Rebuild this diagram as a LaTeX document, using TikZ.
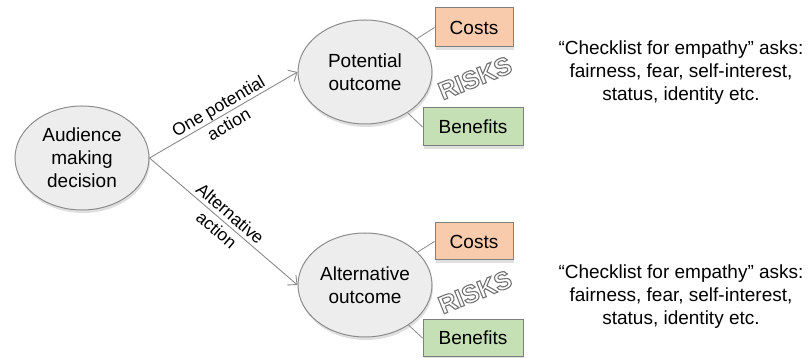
\documentclass[tikz,border=0pt]{standalone}
\usepackage{fontspec}
\setmainfont{Liberation Sans}
\usepackage{xcolor}
\usetikzlibrary{arrows.meta,shadows,shapes.geometric}
\definecolor{ovalfill}{HTML}{EDEDED}
\definecolor{ovalline}{HTML}{8C8C8C}
\definecolor{costfill}{HTML}{F8CBAD}
\definecolor{benfill}{HTML}{C5E0B4}
\definecolor{boxline}{HTML}{7F7F7F}
\definecolor{wire}{HTML}{8A8A8A}
\newcommand\bigtext{\fontsize{19}{23}\selectfont}
\newcommand\risks{\special{pdf:code q 2 Tr 1.1 w 0.45 G 1 g}%
  {\bfseries\fontsize{25}{25}\selectfont RISKS}\special{pdf:code Q}}
\tikzset{
  oval/.style={ellipse, draw=ovalline, line width=1pt, fill=ovalfill,
    minimum width=134pt, minimum height=104pt, inner sep=0pt, align=center,
    font=\bigtext, drop shadow={opacity=0.25, shadow xshift=1pt, shadow yshift=-3pt}},
  costbox/.style={rectangle, draw=boxline, line width=1pt, fill=costfill,
    minimum width=78pt, minimum height=39pt, font=\bigtext,
    drop shadow={opacity=0.25, shadow xshift=1pt, shadow yshift=-3pt}},
  benbox/.style={costbox, fill=benfill, minimum width=100pt, minimum height=38pt},
  note/.style={align=center, font=\bigtext},
  act/.style={draw=wire, line width=0.9pt, -{Straight Barb[length=7pt,width=13pt]}},
  tie/.style={draw=wire, line width=0.8pt},
  actlabel/.style={midway, sloped, align=center,
    font=\fontsize{17.5}{21}\selectfont}
}
\begin{document}
\begin{tikzpicture}[x=1pt, y=1pt]
    \useasboundingbox (0, 0) rectangle (810, 358);

    \node[oval] (Aud) at (82, 200) {Audience\\making\\decision};
    \node[oval] (Pot) at (365, 286) {Potential\\outcome};
    \node[oval] (Alt) at (365, 73) {Alternative\\outcome};

    \node[costbox] (Costs) at (474, 330.5) {Costs};
    \node[benbox] (Ben) at (473, 231) {Benefits};
    \node[costbox, minimum height=37pt] (Costsp) at (474, 116.5) {Costs};
    \node[benbox, minimum height=37pt] (Benp) at (473, 20) {Benefits};

    \node[rotate=22] (Risk) at (475, 280) {\risks};
    \node[rotate=22] (Riskp) at (475, 66) {\risks};

    \node[note] (Check) at (681, 285)
      {``Checklist for empathy'' asks:\\fairness, fear, self-interest,\\status, identity etc.};
    \node[note] (Checkp) at (681, 61)
      {``Checklist for empathy'' asks:\\fairness, fear, self-interest,\\status, identity etc.};

    \draw[act] (Aud.east) -- (Pot.west)
      node[actlabel] {One potential\\action};
    \draw[act] (Aud.east) -- (Alt.west)
      node[actlabel] {Alternative\\action};

    \draw[tie] (Pot) -- (Costs.west);
    \draw[tie] (Pot) -- (Ben.west);
    \draw[tie] (Alt) -- (Costsp.west);
    \draw[tie] (Alt) -- (Benp.west);
\end{tikzpicture}
\end{document}
